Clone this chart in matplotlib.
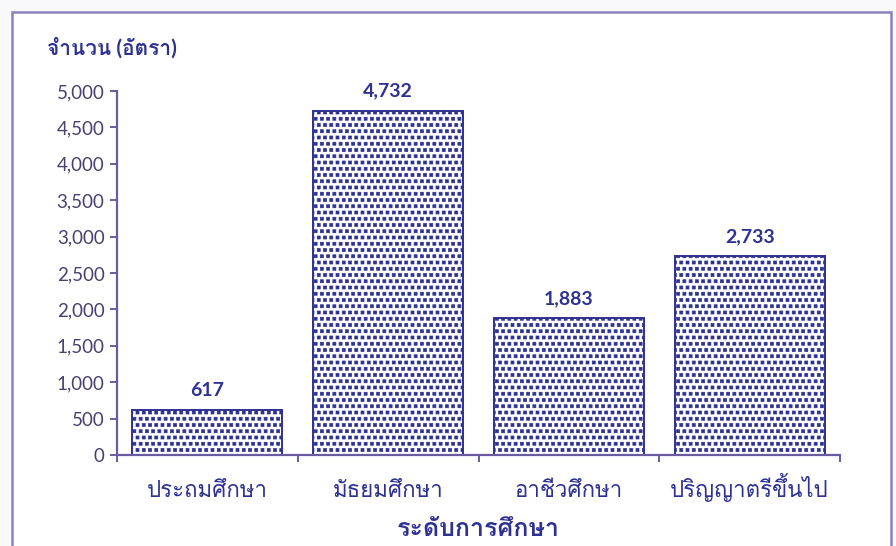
import matplotlib
matplotlib.use("Agg")
import matplotlib.pyplot as plt
import matplotlib.hatch as mhatch
from matplotlib import font_manager
from matplotlib.ft2font import FT2Font
from matplotlib.patches import Rectangle
from matplotlib.path import Path

categories = ["ประถมศึกษา", "มัธยมศึกษา", "อาชีวศึกษา", "ปริญญาตรีขึ้นไป"]
values = [617, 4732, 1883, 2733]
y_ticks = [0, 500, 1000, 1500, 2000, 2500, 3000, 3500, 4000, 4500, 5000]
y_title = "จำนวน (อัตรา)"
x_title = "ระดับการศึกษา"

NAVY = "#2e3192"
AXIS = "#6a5aa0"
TICKTXT = "#4a3f6e"


def thai_fonts():
    """Names of installed families that have Thai glyphs."""
    found = []
    for f in font_manager.fontManager.ttflist:
        try:
            if 0x0E01 in FT2Font(f.fname).get_charmap() and f.name not in found:
                found.append(f.name)
        except Exception:
            pass
    return found


class SquareDots(mhatch.Shapes):
    """Filled little squares on a staggered grid -- stands in for the
    Excel-style dotted fill. Replaces the '.' hatch.
    num_rows has to be even (Shapes' vertex count assumes it)."""
    size = 0.48
    filled = True

    def __init__(self, hatch, density):
        self.num_rows = 16 if "." in hatch else 0
        sq = Path.unit_rectangle()
        self.shape_vertices = sq.vertices - 0.5
        self.shape_codes = sq.codes
        super().__init__(hatch, density)


mhatch._hatch_types = [SquareDots if t is mhatch.SmallFilledCircles else t
                       for t in mhatch._hatch_types]

# Lato for digits (close to Calibri), then whatever has Thai
fams = ["Lato"] + thai_fonts() + ["DejaVu Sans"]
plt.rcParams["font.family"] = fams
plt.rcParams["hatch.color"] = NAVY
plt.rcParams["hatch.linewidth"] = 0.5

fig = plt.figure(figsize=(8.96, 5.46), dpi=100)
fig.patch.set_facecolor("#f9f9fb")
fig.add_artist(Rectangle((12 / 896, -0.01), 879 / 896, 1 - 12 / 546 + 0.01,
                         transform=fig.transFigure, facecolor="white",
                         edgecolor="#8c82bc", lw=1.8, zorder=0))

ax = fig.add_axes([117 / 896, 1 - 455 / 546, 723 / 896, 364 / 546])
ax.patch.set_alpha(0)
x = range(len(categories))
ax.bar(x, values, width=0.83, color="white", edgecolor=NAVY, hatch=".", lw=1.4, zorder=2)
for xi, v in zip(x, values):
    ax.annotate(f"{v:,}", (xi, v), xytext=(0, 8), textcoords="offset points",
                ha="center", va="bottom", fontsize=14, fontweight="bold", color=NAVY)

ax.set_xlim(-0.5, len(categories) - 0.5)
ax.set_ylim(0, 5000)
ax.set_yticks(y_ticks)
ax.set_yticklabels([f"{t:,}" for t in y_ticks], fontsize=13.5, color=TICKTXT)
ax.set_xticks([i - 0.5 for i in range(len(categories) + 1)])
ax.set_xticklabels([])
ax.set_xticks(list(x), minor=True)
ax.set_xticklabels(categories, minor=True, fontsize=16, color=NAVY)
for lab in ax.get_xticklabels(minor=True):
    lab.set_va("baseline")
ax.tick_params(axis="x", which="minor", length=0, pad=30)
ax.tick_params(axis="x", which="major", length=5, width=1.4, color=AXIS)
ax.tick_params(axis="y", length=5, width=1.4, color=AXIS, pad=4)
for s in ["top", "right"]:
    ax.spines[s].set_visible(False)
for s in ["left", "bottom"]:
    ax.spines[s].set_color(AXIS)
    ax.spines[s].set_linewidth(1.6)

fig.text(47 / 896, 1 - 48 / 546, y_title, fontsize=15, fontweight="bold",
         color=NAVY, ha="left", va="center")
fig.text(478 / 896, 1 - 528 / 546, x_title, fontsize=18, fontweight="bold",
         color=NAVY, ha="center", va="center")

fig.savefig("out.png", dpi=100, facecolor=fig.get_facecolor())
